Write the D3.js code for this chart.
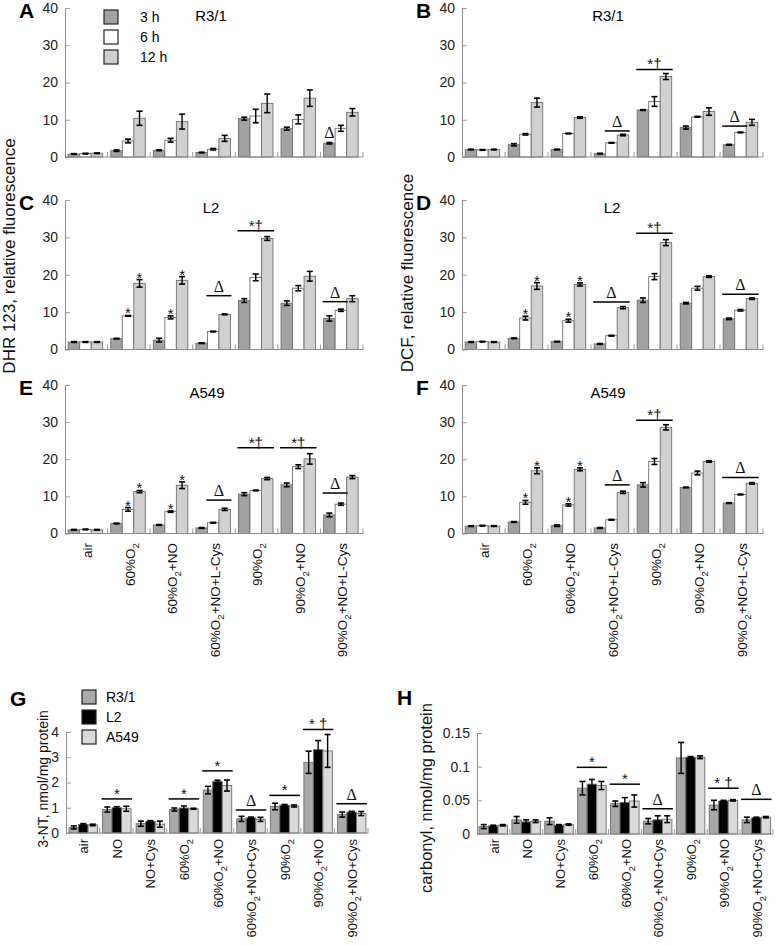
<!DOCTYPE html>
<html>
<head>
<meta charset="utf-8">
<title>ROS panels</title>
<script src="https://cdn.jsdelivr.net/npm/d3@7"></script>
<style>
	body { margin: 0; background: #fff; }
	svg { font-family: Arial, "Liberation Sans", sans-serif; }
</style>
</head>
<body>
<script>
var W = 777, H = 945;

// categories
var groupsAF = ["air", "60%O2", "60%O2+NO", "60%O2+NO+L-Cys", "90%O2", "90%O2+NO", "90%O2+NO+L-Cys"];
var groupsGH = ["air", "NO", "NO+Cys", "60%O2", "60%O2+NO", "60%O2+NO+Cys", "90%O2", "90%O2+NO", "90%O2+NO+Cys"];
var hours = ["3 h", "6 h", "12 h"];
var cells = ["R3/1", "L2", "A549"];
var hourColors = ["#a2a2a2", "#ffffff", "#d0d0d0"];
var cellColors = ["#a9a9a9", "#000000", "#dadada"];

// tick labels
var fluorTicks = [0, 10, 20, 30, 40];
var ntTicks = [0, 1, 2, 3, 4];
var carbTicks = [0, 0.05, 0.1, 0.15];

// A: DHR 123, R3/1  (3 h, 6 h, 12 h per group)
var dhrR31 = [[0.8, 0.9, 1.0], [1.7, 4.3, 10.4], [1.8, 4.5, 9.5], [1.2, 2.1, 5.0], [10.3, 11.0, 14.4], [7.6, 10.1, 15.8], [3.7, 7.7, 12.0]];
var dhrR31Err = [[0.1, 0.1, 0.1], [0.2, 0.5, 1.9], [0.1, 0.5, 2.0], [0.1, 0.2, 0.8], [0.4, 1.8, 2.5], [0.4, 1.2, 2.2], [0.2, 0.8, 1.0]];
// B: DCF, R3/1
var dcfR31 = [[2.0, 1.9, 2.0], [3.3, 6.1, 14.6], [2.0, 6.3, 10.6], [0.9, 3.8, 5.9], [12.6, 14.9, 21.6], [7.9, 10.8, 12.2], [3.3, 6.6, 9.3]];
var dcfR31Err = [[0.1, 0.1, 0.1], [0.3, 0.2, 1.2], [0.1, 0.1, 0.2], [0.1, 0.1, 0.2], [0.1, 1.3, 0.8], [0.4, 0.1, 1.0], [0.1, 0.1, 0.8]];
// C: DHR 123, L2
var dhrL2 = [[2.0, 2.0, 2.0], [2.9, 9.0, 17.7], [2.5, 8.6, 18.5], [1.7, 4.8, 9.4], [13.1, 19.3, 29.7], [12.4, 16.4, 19.6], [8.3, 10.5, 13.6]];
var dhrL2Err = [[0.1, 0.1, 0.1], [0.1, 0.1, 1.0], [0.5, 0.4, 1.0], [0.1, 0.1, 0.1], [0.5, 0.9, 0.5], [0.6, 0.7, 1.3], [0.7, 0.3, 0.8]];
// D: DCF, L2
var dcfL2 = [[2.0, 2.1, 2.0], [3.0, 8.4, 17.0], [2.1, 7.7, 17.4], [1.5, 3.7, 11.2], [13.2, 19.5, 28.6], [12.4, 16.4, 19.5], [8.2, 10.5, 13.6]];
var dcfL2Err = [[0.1, 0.1, 0.1], [0.1, 0.5, 0.9], [0.1, 0.4, 0.4], [0.1, 0.1, 0.3], [0.6, 0.8, 0.8], [0.2, 0.5, 0.2], [0.2, 0.2, 0.2]];
// E: DHR 123, A549
var dhrA549 = [[1.0, 1.1, 1.0], [2.7, 6.5, 11.3], [2.3, 5.9, 13.0], [1.5, 2.9, 6.5], [10.6, 11.6, 14.8], [13.1, 18.0, 20.1], [5.0, 7.9, 15.2]];
var dhrA549Err = [[0.1, 0.1, 0.1], [0.1, 0.5, 0.3], [0.1, 0.2, 0.9], [0.1, 0.1, 0.3], [0.4, 0.1, 0.3], [0.5, 0.5, 1.4], [0.5, 0.3, 0.4]];
// F: DCF, A549
var dcfA549 = [[2.0, 2.1, 2.0], [3.1, 8.4, 16.9], [2.1, 7.7, 17.3], [1.5, 3.7, 11.1], [13.1, 19.4, 28.6], [12.4, 16.3, 19.4], [8.2, 10.5, 13.5]];
var dcfA549Err = [[0.1, 0.1, 0.1], [0.1, 0.5, 0.8], [0.2, 0.3, 0.4], [0.1, 0.1, 0.3], [0.6, 0.8, 0.7], [0.1, 0.5, 0.2], [0.1, 0.1, 0.2]];
// G: 3-NT (R3/1, L2, A549 per group)
var nt = [[0.22, 0.34, 0.32], [0.93, 1.0, 0.96], [0.37, 0.46, 0.35], [0.93, 0.99, 0.96], [1.7, 2.04, 1.88], [0.56, 0.6, 0.54], [1.05, 1.1, 1.07], [2.8, 3.3, 3.25], [0.73, 0.83, 0.77]];
var ntErr = [[0.06, 0.03, 0.03], [0.1, 0.04, 0.1], [0.1, 0.03, 0.12], [0.06, 0.08, 0.02], [0.15, 0.05, 0.22], [0.1, 0.03, 0.08], [0.13, 0.03, 0.04], [0.44, 0.36, 0.65], [0.1, 0.03, 0.08]];
// H: carbonyl
var carb = [[0.011, 0.012, 0.013], [0.021, 0.018, 0.019], [0.019, 0.013, 0.014], [0.068, 0.074, 0.072], [0.045, 0.047, 0.049], [0.019, 0.021, 0.022], [0.113, 0.114, 0.114], [0.043, 0.049, 0.05], [0.021, 0.024, 0.025]];
var carbErr = [[0.003, 0.001, 0.001], [0.005, 0.003, 0.002], [0.005, 0.001, 0.001], [0.01, 0.007, 0.006], [0.004, 0.007, 0.009], [0.004, 0.006, 0.005], [0.023, 0.001, 0.002], [0.007, 0.001, 0.001], [0.004, 0.001, 0.001]];

// significance: [group, first bar, last bar, level, label]  /  single: [group, bar, label]
var sigA = [], markA = [[6, 0, "Δ"]];
var sigB = [[3, 1, 2, 7.0, "Δ"], [4, 0, 2, 23.5, "*†"], [6, 0, 1, 8.3, "Δ"]], markB = [];
var sigC = [[3, 1, 2, 14.4, "Δ"], [4, 0, 2, 31.8, "*†"], [6, 0, 1, 12.8, "Δ"]];
var markC = [[1, 1, "*"], [1, 2, "*"], [2, 1, "*"], [2, 2, "*"]];
var sigD = [[3, 0, 2, 12.7, "Δ"], [4, 0, 2, 31.1, "*†"], [6, 0, 2, 14.8, "Δ"]];
var markD = [[1, 1, "*"], [1, 2, "*"], [2, 1, "*"], [2, 2, "*"]];
var sigE = [[3, 1, 2, 9.0, "Δ"], [4, 0, 2, 23.1, "*†"], [5, 0, 2, 23.1, "*†"], [6, 0, 1, 10.9, "Δ"]];
var markE = [[1, 1, "*"], [1, 2, "*"], [2, 1, "*"], [2, 2, "*"]];
var sigF = [[3, 1, 2, 13.1, "Δ"], [4, 0, 2, 30.5, "*†"], [6, 0, 2, 15.1, "Δ"]];
var markF = [[1, 1, "*"], [1, 2, "*"], [2, 1, "*"], [2, 2, "*"]];
var sigG = [[1, 0, 2, 1.35, "*"], [3, 0, 2, 1.35, "*"], [4, 0, 2, 2.46, "*"], [5, 0, 2, 0.91, "Δ"], [6, 0, 2, 1.49, "*"], [7, 0, 2, 4.1, "* †"], [8, 0, 2, 1.16, "Δ"]];
var sigH = [[3, 0, 2, 0.099, "*"], [4, 0, 2, 0.074, "*"], [5, 0, 2, 0.0375, "Δ"], [7, 0, 2, 0.068, "* †"], [8, 0, 2, 0.0515, "Δ"]];

var svg = d3.select("body").append("svg")
	.attr("width", W)
	.attr("height", H);

svg.append("rect").attr("width", W).attr("height", H).attr("fill", "#fff");

// text with O2 subscript
var addLabel = function (sel, s) {
	var i = s.indexOf("O2");
	if (i < 0) { sel.text(s); return; }
	sel.append("tspan").text(s.slice(0, i + 1));
	sel.append("tspan").attr("font-size", "0.72em").attr("dy", 4).text("2");
	var rest = s.slice(i + 2);
	if (rest) sel.append("tspan").attr("dy", -4).text(rest);
};

var sigFont = function (t) {
	return t == "Δ" ? "'Liberation Serif', 'Times New Roman', serif" : "Arial, 'Liberation Sans', sans-serif";
};

var drawPanel = function (c) {
	var n = c.groups.length;
	var g = svg.append("g");
	var x = d3.scaleBand().domain(d3.range(n)).range([c.x0, c.x1]);
	var xs = d3.scaleBand().domain(d3.range(c.colors.length)).range([c.pad, c.pad + c.colors.length * c.barW]);
	var y = d3.scaleLinear().domain([0, c.max]).range([c.y0, c.yTop]);

	var items = [];
	c.vals.forEach(function (row, gi) {
		row.forEach(function (v, si) {
			items.push({gi: gi, si: si, v: v, e: c.errs[gi][si]});
		});
	});

	// bars
	g.selectAll("rect.bar").data(items).enter().append("rect")
		.attr("class", "bar")
		.attr("x", function (d) { return x(d.gi) + xs(d.si); })
		.attr("y", function (d) { return y(d.v); })
		.attr("width", xs.bandwidth())
		.attr("height", function (d) { return c.y0 - y(d.v); })
		.attr("fill", function (d) { return c.colors[d.si]; })
		.attr("stroke", "#6e6e6e")
		.attr("stroke-width", 0.9);

	// error bars
	var eb = g.selectAll("g.err").data(items).enter().append("g")
		.attr("class", "err")
		.attr("transform", function (d) { return "translate(" + (x(d.gi) + xs(d.si) + xs.bandwidth() / 2) + ",0)"; });
	eb.append("line")
		.attr("y1", function (d) { return y(d.v - d.e); })
		.attr("y2", function (d) { return y(d.v + d.e); })
		.attr("stroke", "#000").attr("stroke-width", 1.4);
	[-1, 1].forEach(function (s) {
		eb.append("line")
			.attr("x1", -3).attr("x2", 3)
			.attr("y1", function (d) { return y(d.v + s * d.e); })
			.attr("y2", function (d) { return y(d.v + s * d.e); })
			.attr("stroke", "#000").attr("stroke-width", 1.6);
	});

	// y axis
	var yAxis = d3.axisLeft(y).tickValues(c.ticks).tickSizeInner(-5).tickSizeOuter(0).tickPadding(7).tickFormat(c.fmt);
	var ag = g.append("g").attr("transform", "translate(" + c.x0 + ",0)").call(yAxis);
	ag.attr("font-size", null).attr("font-family", null);
	ag.select(".domain").attr("stroke", "#8a8a8a");
	ag.selectAll(".tick line").attr("stroke", "#9a9a9a");
	ag.selectAll(".tick text").attr("font-size", 14).attr("fill", "#222");

	// x axis baseline with group separators
	g.append("line")
		.attr("x1", c.x0).attr("x2", c.x1)
		.attr("y1", c.y0).attr("y2", c.y0)
		.attr("stroke", "#8a8a8a");
	g.selectAll("line.sep").data(d3.range(1, n + 1)).enter().append("line")
		.attr("class", "sep")
		.attr("x1", function (i) { return i < n ? x(i) : c.x1; })
		.attr("x2", function (i) { return i < n ? x(i) : c.x1; })
		.attr("y1", c.y0).attr("y2", c.y0 - 5)
		.attr("stroke", "#9a9a9a");

	// x labels
	if (c.labelTop) {
		g.selectAll("text.xl").data(c.groups).enter().append("text")
			.attr("class", "xl")
			.attr("transform", function (d, i) { return "translate(" + (x(i) + x.bandwidth() / 2 + 1) + "," + c.labelTop + ") rotate(-90)"; })
			.attr("text-anchor", "end")
			.attr("dy", "0.35em")
			.attr("font-size", c.labelSize)
			.attr("fill", "#111")
			.each(function (d) { addLabel(d3.select(this), d); });
	}

	// significance lines
	c.sigs.forEach(function (s) {
		var xa = x(s[0]) + xs(s[1]) - 1;
		var xb = x(s[0]) + xs(s[2]) + xs.bandwidth() + 1;
		g.append("line")
			.attr("x1", xa).attr("x2", xb)
			.attr("y1", y(s[3])).attr("y2", y(s[3]))
			.attr("stroke", "#000").attr("stroke-width", 1.5);
		g.append("text")
			.attr("x", (xa + xb) / 2).attr("y", y(s[3]) - (s[4] == "Δ" ? 4 : 0))
			.attr("text-anchor", "middle")
			.attr("font-size", s[4] == "Δ" ? 16 : 15)
			.attr("font-family", sigFont(s[4]))
			.attr("fill", "#111")
			.text(s[4]);
	});
	c.marks.forEach(function (m) {
		var top = y(c.vals[m[0]][m[1]] + c.errs[m[0]][m[1]]);
		g.append("text")
			.attr("x", x(m[0]) + xs(m[1]) + xs.bandwidth() / 2)
			.attr("y", m[2] == "Δ" ? top - 4 : top + 3)
			.attr("text-anchor", "middle")
			.attr("font-size", m[2] == "Δ" ? 16 : 15)
			.attr("font-family", sigFont(m[2]))
			.attr("fill", "#111")
			.text(m[2]);
	});

	// panel letter and title
	g.append("text")
		.attr("x", c.letterX).attr("y", c.letterY)
		.attr("font-size", 21).attr("font-weight", "bold")
		.text(c.letter);
	if (c.title) {
		g.append("text")
			.attr("x", c.titleX).attr("y", c.titleY)
			.attr("text-anchor", "middle")
			.attr("font-size", 15)
			.text(c.title);
	}
};

var fmtInt = d3.format("d");
var fmtCarb = function (d) { return String(d); };

var colL = {x0: 65, x1: 363}, colR = {x0: 462, x1: 763};
var rows = [{y0: 157, yTop: 8}, {y0: 349.5, yTop: 200}, {y0: 533.5, yTop: 385}];

var fluorPanels = [
	{col: colL, row: 0, vals: dhrR31, errs: dhrR31Err, sigs: sigA, marks: markA, letter: "A", title: "R3/1", titleX: 211},
	{col: colR, row: 0, vals: dcfR31, errs: dcfR31Err, sigs: sigB, marks: markB, letter: "B", title: "R3/1", titleX: 608},
	{col: colL, row: 1, vals: dhrL2, errs: dhrL2Err, sigs: sigC, marks: markC, letter: "C", title: "L2", titleX: 211},
	{col: colR, row: 1, vals: dcfL2, errs: dcfL2Err, sigs: sigD, marks: markD, letter: "D", title: "L2", titleX: 612},
	{col: colL, row: 2, vals: dhrA549, errs: dhrA549Err, sigs: sigE, marks: markE, letter: "E", title: "A549", titleX: 207},
	{col: colR, row: 2, vals: dcfA549, errs: dcfA549Err, sigs: sigF, marks: markF, letter: "F", title: "A549", titleX: 608}
];

fluorPanels.forEach(function (p) {
	var r = rows[p.row];
	drawPanel({
		x0: p.col.x0, x1: p.col.x1, y0: r.y0, yTop: r.yTop, max: 40,
		ticks: fluorTicks, fmt: fmtInt, groups: groupsAF,
		vals: p.vals, errs: p.errs, colors: hourColors,
		pad: 3.2, barW: 11.5,
		sigs: p.sigs, marks: p.marks,
		labelTop: p.row == 2 ? 543 : null, labelSize: 13.5,
		letter: p.letter, letterX: p.col.x0 - 46, letterY: r.yTop + 10,
		title: p.title, titleX: p.titleX, titleY: r.yTop + 13
	});
});

drawPanel({
	x0: 66, x1: 368, y0: 833, yTop: 732, max: 4,
	ticks: ntTicks, fmt: fmtInt, groups: groupsGH,
	vals: nt, errs: ntErr, colors: cellColors,
	pad: 3, barW: 9.5, sigs: sigG, marks: [],
	labelTop: 839, labelSize: 13,
	letter: "G", letterX: 10, letterY: 706
});

drawPanel({
	x0: 477, x1: 773, y0: 834, yTop: 733, max: 0.15,
	ticks: carbTicks, fmt: fmtCarb, groups: groupsGH,
	vals: carb, errs: carbErr, colors: cellColors,
	pad: 2, barW: 9.5, sigs: sigH, marks: [],
	labelTop: 839, labelSize: 13,
	letter: "H", letterX: 397, letterY: 705
});

// legends
var legend = function (names, colors, lx, ly, step, tx) {
	var lg = svg.append("g");
	names.forEach(function (nm, i) {
		lg.append("rect")
			.attr("x", lx).attr("y", ly + i * step)
			.attr("width", 14).attr("height", 14)
			.attr("fill", colors[i])
			.attr("stroke", "#222").attr("stroke-width", 1.2);
		lg.append("text")
			.attr("x", tx).attr("y", ly + i * step + 12)
			.attr("font-size", 14)
			.text(nm);
	});
};
legend(hours, hourColors, 104, 10, 20, 140);
legend(cells, cellColors, 82, 690, 20, 106);

// axis titles
var ytitle = function (t, bx, cy, size) {
	svg.append("text")
		.attr("transform", "translate(" + bx + "," + cy + ") rotate(-90)")
		.attr("text-anchor", "middle")
		.attr("font-size", size)
		.attr("fill", "#111")
		.text(t);
};
ytitle("DHR 123, relative fluorescence", 15, 256, 17);
ytitle("DCF, relative fluorescence", 413, 273, 17);
ytitle("3-NT, nmol/mg protein", 48, 779, 14);
ytitle("carbonyl, nmol/mg protein", 432, 798, 16.5);
</script>
</body>
</html>
